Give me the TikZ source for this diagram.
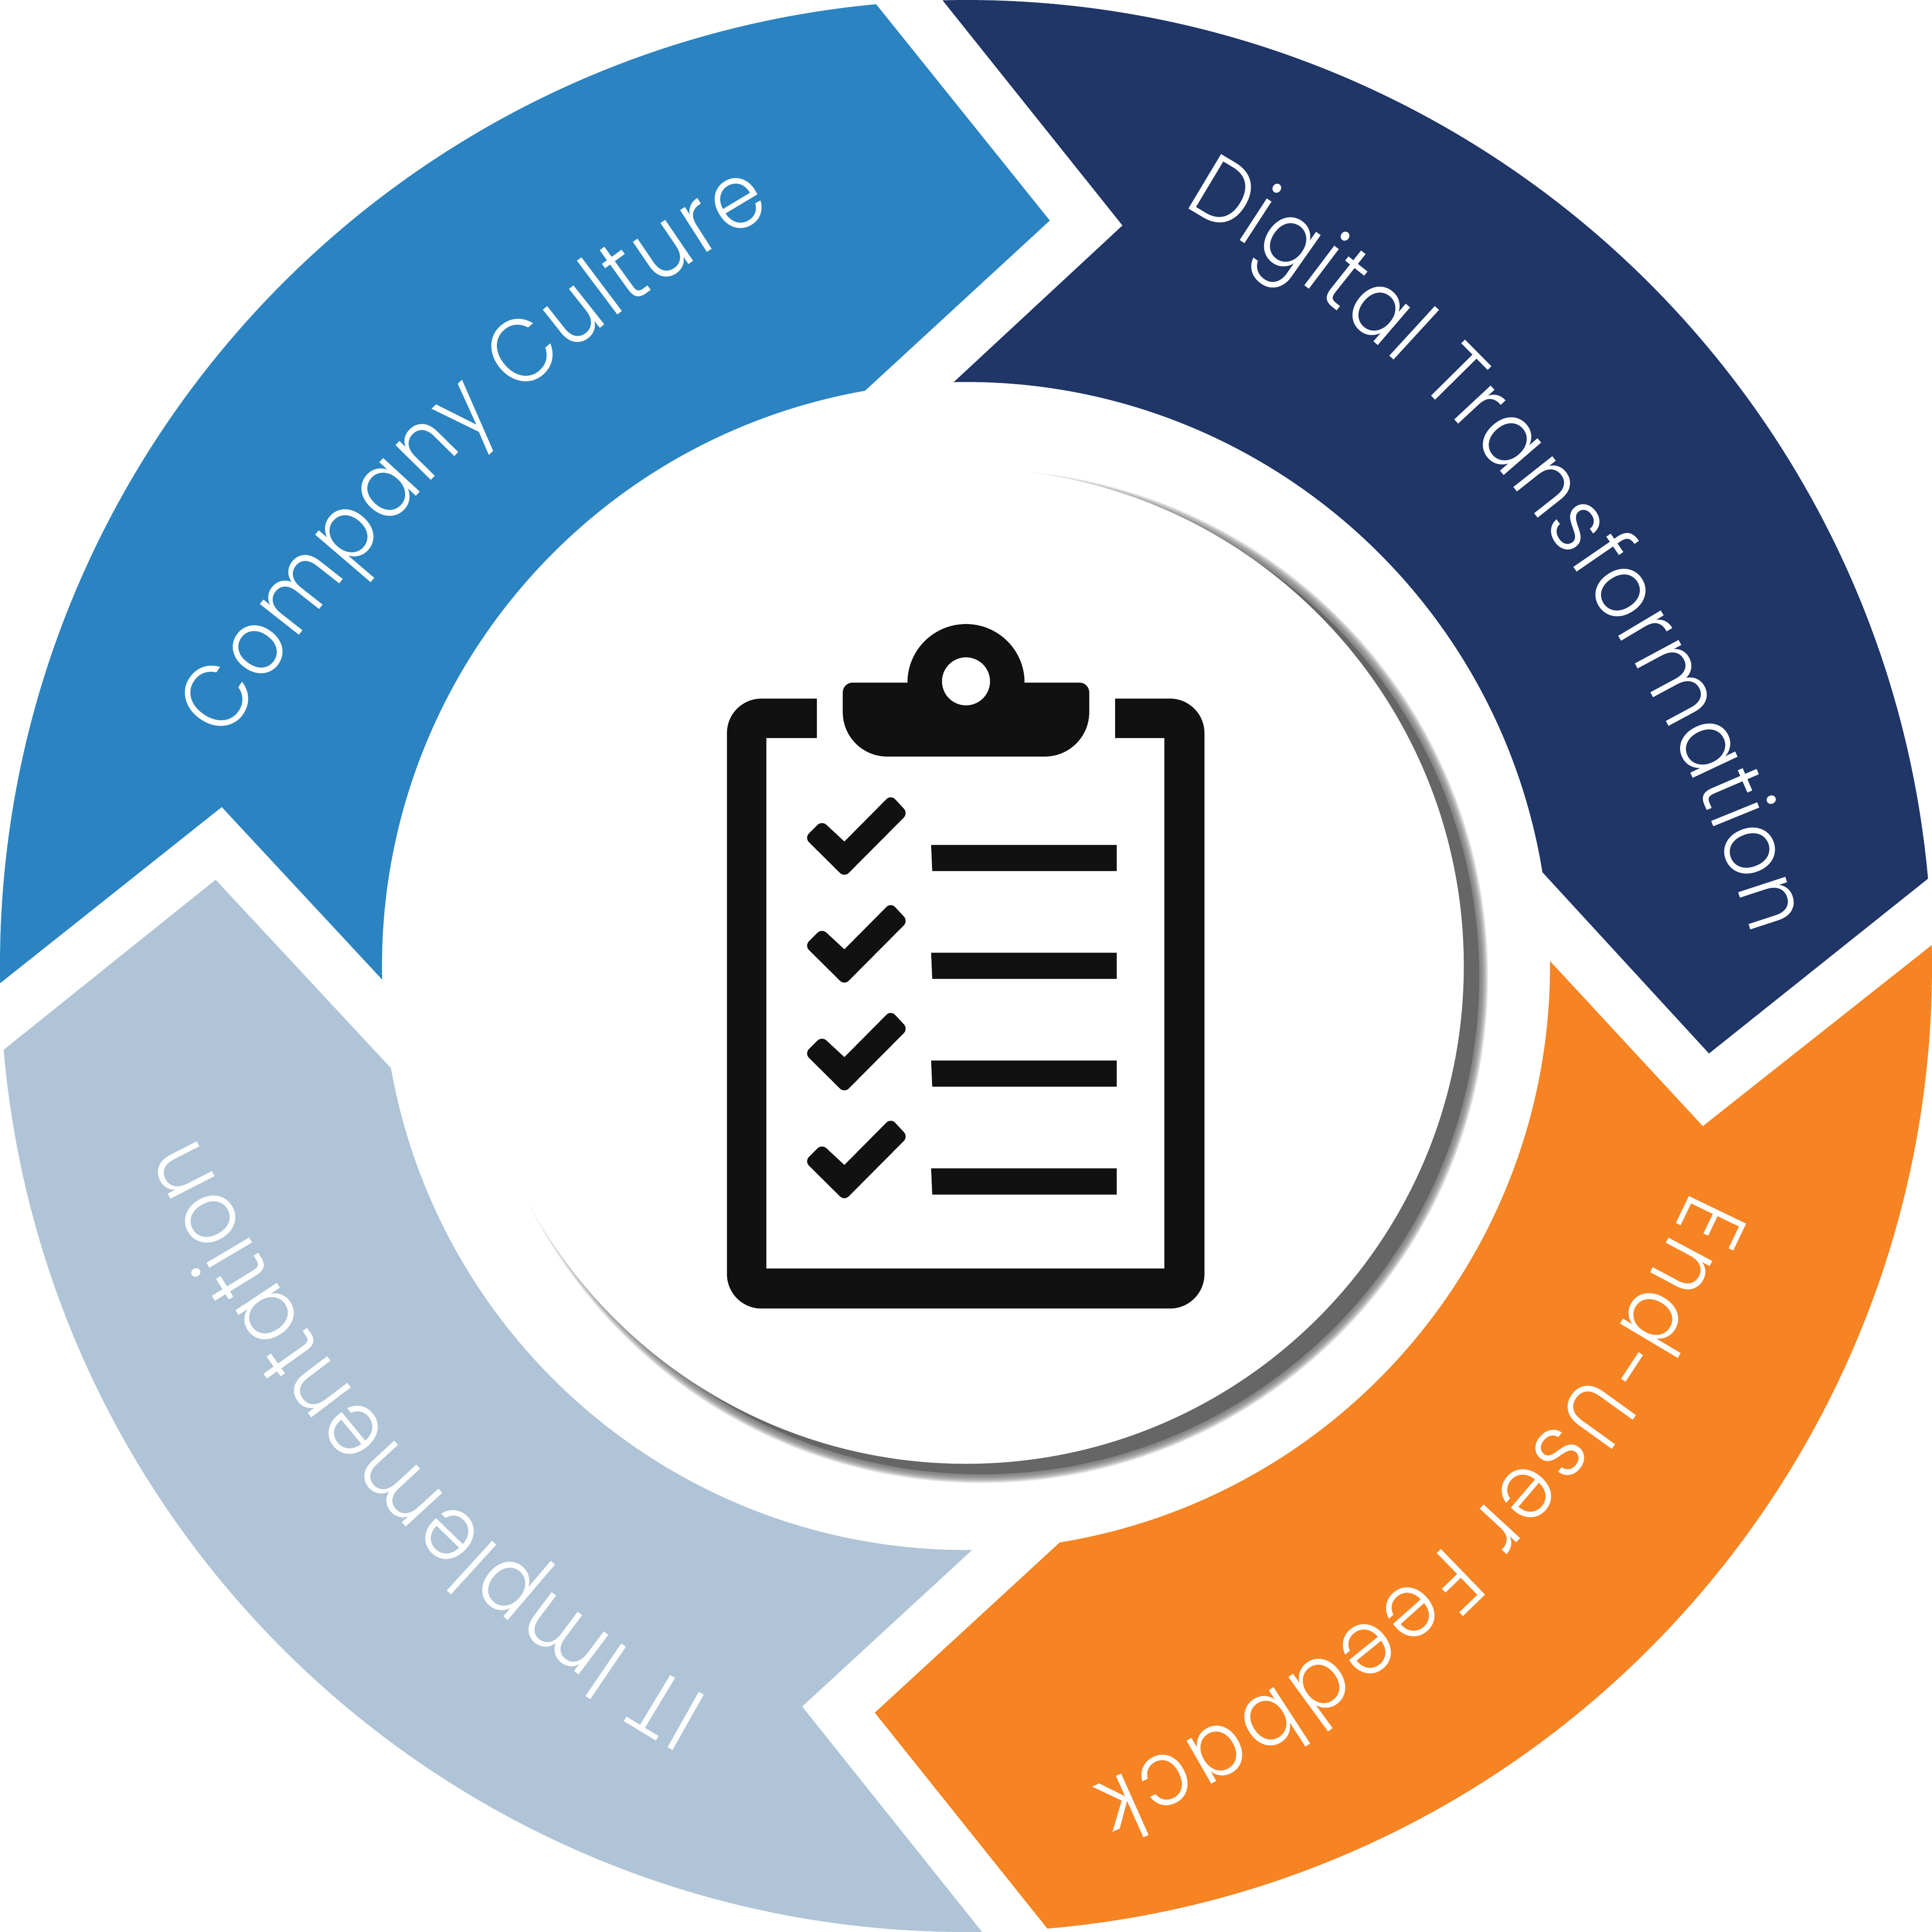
\documentclass[tikz,border=0pt]{standalone}
\usepackage{fontspec}
\newfontfamily\lab[FakeStretch=.9]{Poppins Light}
\usetikzlibrary{decorations.text}
\definecolor{inkblack}{HTML}{111111}
\tikzset{
    wedge/.style={fill=#1, draw=none},
    inkfill/.style={fill=inkblack, draw=none},
    arclabel/.style={
        decorate,
        decoration={text along path, text={|\fontsize{21}{21}\lab|#1}, text align={fit to path, right indent=.4cm}, text color=white}
    }
}
\begin{document}
\begin{tikzpicture}
    \useasboundingbox (-7.84,-7.84) rectangle (7.84,7.84);
    \foreach \col/\oa/\ob/\ax/\ay/\ia/\ib/\bx/\by in {
        1F3667/91.39/5.19/6.03/-.71/9.24/91.2/1.27/6.01,
        F68423/1.24/-85.17/-.74/-6.06/-80.76/.48/5.98/-1.30,
        B0C4D7/-89.05/-175.02/-6.09/.70/-169.92/-89.4/-1.33/-6.01,
        2B84C1/181.02/95.34/.68/6.05/99.96/181.33/-6.04/1.29
    } {
        \definecolor{wedgecol}{HTML}{\col}
        \fill[wedge=wedgecol] (\oa:7.84) arc[start angle=\oa, end angle=\ob, radius=7.84]
            -- (\ax,\ay) -- (\ia:4.74) arc[start angle=\ia, end angle=\ib, radius=4.74] -- (\bx,\by) -- cycle;
    }
    \path[arclabel={Digital Transformation}] (1.76,6.17) to[out=-29.4, in=107, looseness=.87] (6.38,.25) -- ++(-73:.4);
    \path[arclabel={End-User Feedback}] (5.89,-1.82) to[out=-114.7, in=23, looseness=.87] (1.02,-6.66) -- ++(-157:.4);
    \path[arclabel={IT Implementation}] (-2.08,-5.94) to[out=151.1, in=-64, looseness=.87] (-6.26,-1.38) -- ++(116:.4);
    \path[arclabel={Company Culture}] (-6.01,1.83) to[out=57, in=210, looseness=.87] (-1.57,6.12) -- ++(30:.4);
    \foreach \r in {1,...,12} {
        \fill[black!60, opacity=.13] (.125,-.085) circle[radius=4.04+.006*\r];
    }
    \fill[black!60] (.125,-.085) circle[radius=4.04];
    \fill[white] (0,0) circle[radius=4.04];
    \fill[inkfill] (-1.21,2.17) [rounded corners=.28cm] -- (-1.94,2.17) -- (-1.94,-2.78) -- (1.935,-2.78)
        -- (1.935,2.17) [sharp corners] -- (1.21,2.17) -- (1.21,1.85) -- (1.61,1.85) -- (1.61,-2.455)
        -- (-1.62,-2.455) -- (-1.62,1.85) -- (-1.21,1.85) -- cycle;
    \fill[inkfill, even odd rule] (-.475,2.30) arc[start angle=180, end angle=0, radius=.475]
        -- (.92,2.30) arc[start angle=90, end angle=0, radius=.08] -- (1,2.06)
        arc[start angle=0, end angle=-90, radius=.36] -- (-.64,1.70)
        arc[start angle=270, end angle=180, radius=.36] -- (-1,2.22)
        arc[start angle=180, end angle=90, radius=.08] -- cycle
        (0,2.31) circle[radius=.195];
    \foreach \yshift in {0,-.875,-1.75,-2.625} {
        \begin{scope}[yshift=\yshift cm]
            \fill[inkfill] (-.987,1.01) [rounded corners=.05cm] -- (-.61,1.39) -- (-.47,1.24) -- (-.987,.72)
                -- (-1.31,1.04) -- (-1.17,1.18) [sharp corners] -- (-.987,1.01);
            \fill[inkfill] (-.283,.983) -- (1.223,.983) -- (1.223,.77) -- (-.274,.77) -- cycle;
        \end{scope}
    }
\end{tikzpicture}
\end{document}
